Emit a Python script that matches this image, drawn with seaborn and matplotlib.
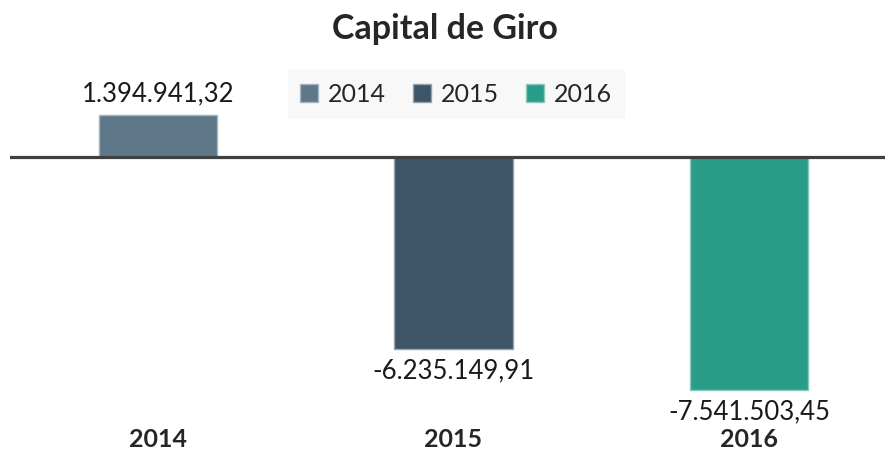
import matplotlib
matplotlib.use("Agg")
import matplotlib.pyplot as plt
import matplotlib.transforms as mtransforms
from matplotlib.patches import Patch
import seaborn as sns
import pandas as pd

anos = ["2014", "2015", "2016"]
valores = [1394941.32, -6235149.91, -7541503.45]
rotulos = ["1.394.941,32", "-6.235.149,91", "-7.541.503,45"]
cores = ["#5f7889", "#3e5468", "#2a9d8a"]

df = pd.DataFrame({"ano": anos, "valor": valores})

sns.set_style("white")
plt.rcParams["font.family"] = ["Lato", "DejaVu Sans"]

fig = plt.figure(figsize=(8.9, 4.52), dpi=100)
ax = fig.add_axes([10 / 890, 1 - 400 / 452, 875 / 890, 300 / 452])

sns.barplot(data=df, x="ano", y="valor", hue="ano", palette=cores,
            dodge=False, width=0.4, legend=False, ax=ax, saturation=1)
for p, c in zip(ax.patches, cores):
    p.set_edgecolor(sns.light_palette(c, 3)[1])
    p.set_linewidth(1)

ax.set_xlim(-0.5, 2.46)
ax.set_ylim(-7.85e6, 1.90e6)
ax.axhline(0, color="#404040", linewidth=2.3, zorder=5)

for i, (v, r) in enumerate(zip(valores, rotulos)):
    off = 16 if v > 0 else -15
    ax.annotate(r, (i, v), xytext=(0, off), textcoords="offset points",
                ha="center", va="center", fontsize=18.5, color="#1a1a1a")

trans = mtransforms.blended_transform_factory(ax.transData, fig.transFigure)
for i, a in enumerate(anos):
    ax.text(i, 1 - 440 / 452, a, transform=trans,
            ha="center", va="center", fontsize=18, fontweight="bold")

ax.set_xticks([])
ax.set_yticks([])
ax.set_xlabel("")
ax.set_ylabel("")
sns.despine(ax=ax, left=True, bottom=True)

fig.text(0.5, 1 - 29 / 452, "Capital de Giro", ha="center", va="center",
         fontsize=24.5, fontweight="bold")

handles = [Patch(facecolor=c, edgecolor=sns.light_palette(c, 3)[1]) for c in cores]
leg = fig.legend(handles, anos, loc="center", bbox_to_anchor=(456 / 890, 1 - 95 / 452),
                 ncol=3, fontsize=18, frameon=True, fancybox=False,
                 handlelength=0.7, handleheight=0.7, handletextpad=0.4,
                 columnspacing=1.1, borderpad=0.5, borderaxespad=0)
leg.get_frame().set_facecolor("#f7f7f7")
leg.get_frame().set_edgecolor("#f7f7f7")

fig.savefig("out.png", dpi=100)
